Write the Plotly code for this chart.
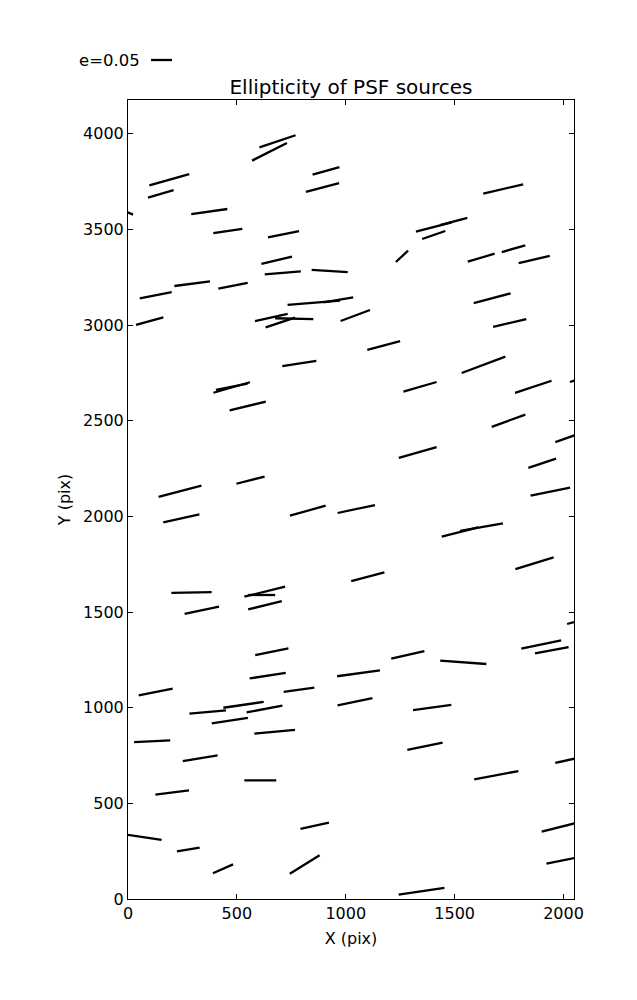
import plotly.graph_objects as go

# Whisker centres (CCD pixel coordinates)
x = [189.6, 150.6, 686.5, 649.8, 909.2, 893.1, 1722.9, 373.3, -18.4, 458.3,
     714.1, 1404.2, 1495.6, 1403.8, 1258.2, 1621.9, 1770.2, 1865.3, 682.8, 710.8,
     926.2, 127.2, 294.8, 482.2, 853.2, 965.7, 1672.4, 99.6, 658.0, 699.4,
     763.2, 1043.8, 1752.8, 1174.2, 786.6, 1632.5, 476.2, 476.2, 549.7, 1340.9,
     1861.1, 2087.0, 1747.3, 2042.1, 1330.3, 1902.0, 238.8, 562.5, 1939.2, 244.8,
     825.6, 1048.4, 1524.5, 1623.3, 1866.6, 291.6, 338.9, 627.7, 614.0, 629.1,
     1101.2, 2084.8, 660.3, 1897.4, 1946.1, 1284.8, 1539.7, 641.5, 1058.5, 127.2,
     785.2, 1042.4, 366.0, 530.4, 626.8, 467.5, 1396.9, 111.1, 673.6, 1363.8,
     331.5, 2042.1, 1691.2, 203.0, 607.5, 70.3, 276.9, 436.2, 857.3, 811.4,
     1347.8, 1982.8, 1993.8]
y = [3759.4, 3685.7, 3960.1, 3905.2, 3805.9, 3718.7, 3710.8, 3593.2, 3595.8, 3491.3,
     3474.6, 3512.2, 3541.0, 3470.4, 3359.1, 3351.8, 3398.8, 3342.3, 3338.7, 3272.8,
     3282.2, 3155.8, 3215.9, 3204.9, 3116.0, 3131.7, 3140.1, 3019.9, 3039.2, 3013.1,
     3033.0, 3049.7, 3010.5, 2892.9, 2798.8, 2792.0, 2673.4, 2677.0, 2576.7, 2677.0,
     2677.0, 2723.0, 2499.8, 2419.9, 2333.6, 2277.2, 2130.8, 2188.9, 2128.8, 1989.7,
     2029.5, 2038.3, 1918.1, 1943.2, 1755.1, 1601.9, 1509.4, 1606.1, 1588.9, 1535.5,
     1684.5, 1458.2, 1292.5, 1330.1, 1300.4, 1276.3, 1237.1, 1167.1, 1179.6, 1081.9,
     1093.9, 1030.7, 977.4, 1015.0, 993.0, 931.9, 1000.9, 824.7, 873.9, 798.1,
     735.9, 731.7, 647.0, 556.6, 620.4, 323.0, 258.7, 157.8, 382.6, 180.3,
     40.2, 375.8, 201.2]
# Ellipticity vector components
ex = [0.095, 0.061, 0.086, 0.083, 0.064, 0.079, 0.095, 0.086, 0.043, 0.069,
      0.074, 0.085, 0.065, 0.055, 0.029, 0.064, 0.056, 0.074, 0.073, 0.086,
      0.086, 0.076, 0.085, 0.070, 0.125, 0.071, 0.088, 0.065, 0.078, 0.070,
      0.091, 0.070, 0.079, 0.078, 0.081, 0.104, 0.087, 0.075, 0.086, 0.079,
      0.087, 0.060, 0.080, 0.083, 0.090, 0.066, 0.102, 0.067, 0.094, 0.086,
      0.085, 0.089, 0.087, 0.102, 0.091, 0.096, 0.082, 0.097, 0.064, 0.080,
      0.079, 0.071, 0.079, 0.095, 0.080, 0.079, 0.110, 0.086, 0.102, 0.081,
      0.073, 0.083, 0.087, 0.096, 0.085, 0.086, 0.091, 0.086, 0.097, 0.084,
      0.083, 0.083, 0.105, 0.080, 0.076, 0.087, 0.054, 0.048, 0.068, 0.071,
      0.109, 0.086, 0.075]
ey = [0.027, 0.018, 0.029, 0.042, 0.018, 0.021, 0.022, 0.012, -0.017, 0.010,
      0.015, 0.022, 0.017, 0.019, 0.027, 0.019, 0.016, 0.017, 0.017, 0.007,
      -0.005, 0.015, 0.011, 0.014, 0.010, 0.012, 0.023, 0.018, 0.017, 0.023,
      -0.002, 0.026, 0.019, 0.021, 0.012, 0.039, 0.025, 0.015, 0.021, 0.023,
      0.029, 0.019, 0.029, 0.029, 0.026, 0.022, 0.027, 0.017, 0.019, 0.019,
      0.024, 0.019, 0.022, 0.018, 0.028, 0.002, 0.017, 0.024, 0.000, 0.020,
      0.021, 0.019, 0.016, 0.020, 0.015, 0.018, -0.008, 0.013, 0.014, 0.016,
      0.010, 0.017, 0.008, 0.014, 0.016, 0.013, 0.012, 0.004, 0.009, 0.017,
      0.014, 0.019, 0.020, 0.010, 0.000, -0.013, 0.009, 0.021, 0.015, 0.044,
      0.016, 0.022, 0.015]

KEY_E = 0.05
KEY_LABEL = "e=0.05"

# page body adds an 8 px offset, so the figure is 8 px smaller on each axis
OFF = 8
W, H = 637 - OFF, 1000 - OFF
ML, MR, MT, MB = 128 - OFF, 63, 100 - OFF, 101
XMAX, YMAX = 2048, 4176
pw = W - ML - MR
ph = H - MT - MB
sx = pw / XMAX
sy = ph / YMAX
PX_PER_E = 420  # whisker length in screen pixels for e = 1

xs, ys = [], []
for xi, yi, a, b in zip(x, y, ex, ey):
    hx = a * PX_PER_E / 2 / sx
    hy = b * PX_PER_E / 2 / sy
    xs += [xi - hx, xi + hx, None]
    ys += [yi - hy, yi + hy, None]

fig = go.Figure()
fig.add_trace(go.Scatter(x=xs, y=ys, mode="lines",
                         line=dict(color="black", width=2.3),
                         hoverinfo="skip", showlegend=False))

font = "DejaVu Sans, sans-serif"
axis_common = dict(showgrid=False, zeroline=False, showline=True, linecolor="black",
                   linewidth=1, mirror="allticks", ticks="inside", ticklen=5,
                   tickcolor="black", tickfont=dict(family=font, size=16, color="black"))

fig.update_xaxes(range=[0, XMAX], tickvals=[0, 500, 1000, 1500, 2000],
                 title=dict(text="X (pix)", font=dict(family=font, size=16, color="black"),
                            standoff=10), **axis_common)
fig.update_yaxes(range=[0, YMAX], tickvals=[0, 500, 1000, 1500, 2000, 2500, 3000, 3500, 4000],
                 title=dict(text="Y (pix)", font=dict(family=font, size=16, color="black"),
                            standoff=8), **axis_common)

# key
key_len = KEY_E * PX_PER_E / pw
kx0 = (151 - OFF - ML) / pw
ky = (H - MB - (60 - OFF)) / ph
fig.add_shape(type="line", xref="paper", yref="paper", x0=kx0, x1=kx0 + key_len,
              y0=ky, y1=ky, line=dict(color="black", width=2.3))
fig.add_annotation(xref="paper", yref="paper", x=kx0 - 9 / pw, y=ky, text=KEY_LABEL,
                   showarrow=False, xanchor="right", yanchor="middle",
                   font=dict(family=font, size=16.5, color="black"))

fig.update_layout(
    width=W, height=H,
    margin=dict(l=ML, r=MR, t=MT, b=MB),
    paper_bgcolor="white", plot_bgcolor="white",
    title=dict(text="Ellipticity of PSF sources", x=(ML + pw / 2) / W, xanchor="center",
               y=1 - (87 - OFF) / H, yanchor="middle",
               font=dict(family=font, size=20, color="black")),
)

fig.write_html("out.html")
